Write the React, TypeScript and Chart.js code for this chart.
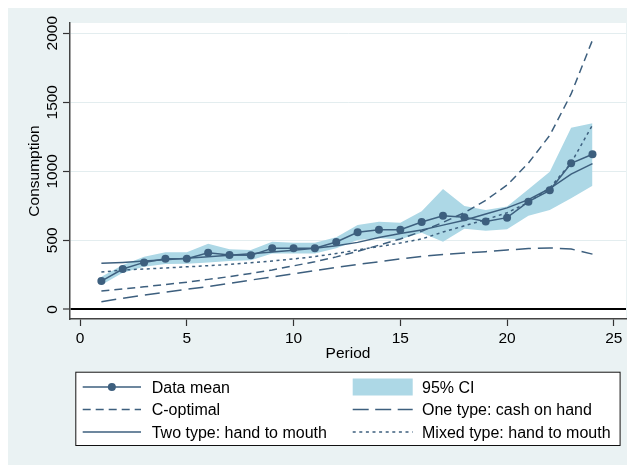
import React, { useEffect, useRef } from "react";
import { Chart, registerables } from "chart.js";

Chart.register(...registerables);

const periods = [1, 2, 3, 4, 5, 6, 7, 8, 9, 10, 11, 12, 13, 14, 15, 16, 17, 18, 19, 20, 21, 22, 23, 24];
const dataMean = [205, 292, 340, 367, 367, 410, 393, 391, 442, 442, 442, 488, 558, 577, 577, 633, 678, 667, 637, 664, 780, 862, 1058, 1123];
const ciUpper = [236, 321, 381, 413, 413, 475, 435, 430, 490, 483, 483, 522, 611, 635, 628, 710, 872, 748, 720, 744, 870, 997, 1316, 1348];
const ciLower = [176, 265, 309, 328, 330, 340, 350, 355, 405, 405, 405, 442, 502, 514, 507, 555, 490, 584, 570, 580, 678, 720, 804, 896];
const cOptimal = [133, 148, 163, 180, 197, 217, 237, 260, 285, 315, 345, 380, 420, 465, 510, 565, 630, 700, 790, 900, 1060, 1260, 1560, 1950];
const oneType = [55, 80, 103, 125, 145, 165, 188, 212, 235, 258, 280, 303, 325, 345, 365, 383, 398, 408, 418, 430, 440, 445, 437, 400];
const twoType = [333, 340, 350, 360, 370, 380, 392, 403, 415, 428, 442, 460, 485, 520, 550, 575, 610, 645, 690, 735, 795, 875, 980, 1055];
const mixedType = [270, 285, 292, 300, 308, 316, 325, 338, 350, 365, 382, 405, 430, 455, 480, 510, 560, 605, 650, 700, 775, 880, 1060, 1335];

const xTicks = [0, 5, 10, 15, 20, 25];
const yTicks = [0, 500, 1000, 1500, 2000];

const BG = "#EAF2F3";
const NAVY = "#3D5F7E";
const CI = "#ADD8E6";
const FONT = "Liberation Sans, Arial, sans-serif";

export default function App() {
  const ref = useRef<HTMLCanvasElement>(null);

  useEffect(() => {
    const canvas = ref.current!;
    const pts = (arr: number[]) => periods.map((p, i) => ({ x: p, y: arr[i] }));

    const bgPlugin = {
      id: "bgPlugin",
      beforeDraw(chart: any) {
        const { ctx, chartArea: a } = chart;
        ctx.save();
        ctx.fillStyle = BG;
        ctx.fillRect(0, 0, chart.width, chart.height);
        ctx.fillStyle = "#ffffff";
        ctx.fillRect(a.left, a.top, a.right - a.left, a.bottom - a.top);
        ctx.restore();
      },
    };

    const textPlugin = {
      id: "textPlugin",
      afterDraw(chart: any) {
        const { ctx, chartArea: a } = chart;
        const xs = chart.scales.x;
        const ys = chart.scales.y;
        ctx.save();
        ctx.fillStyle = "#000";
        ctx.font = `15.5px ${FONT}`;
        // y tick labels (rotated)
        ctx.textAlign = "center";
        ctx.textBaseline = "alphabetic";
        yTicks.forEach((v) => {
          const py = ys.getPixelForValue(v);
          ctx.save();
          ctx.translate(48.5, py);
          ctx.rotate(-Math.PI / 2);
          ctx.fillText(String(v), 0, 0);
          ctx.restore();
        });
        // x tick labels
        xTicks.forEach((v) => {
          const px = xs.getPixelForValue(v);
          ctx.fillText(String(v), px, 334.7);
        });
        // titles
        ctx.fillText("Period", (a.left + a.right) / 2, 349.5);
        ctx.save();
        ctx.translate(30.5, (a.top + a.bottom) / 2);
        ctx.rotate(-Math.PI / 2);
        ctx.fillText("Consumption", 0, 0);
        ctx.restore();

        // legend
        const L = 67.3, T = 363.7, R = 612.6, B = 438;
        ctx.fillStyle = "#fff";
        ctx.fillRect(L, T, R - L, B - T);
        ctx.strokeStyle = "#111";
        ctx.lineWidth = 1;
        ctx.strokeRect(L + 0.5, T + 0.5, R - L - 1, B - T - 1);

        const rows = [379, 401.5, 424];
        const c1 = [74.7, 133], c2 = [344.7, 404.7];
        const t1 = 143.7, t2 = 414;
        const ds = chart.data.datasets;
        const drawLine = (x0: number, x1: number, y: number, d: any) => {
          ctx.save();
          ctx.strokeStyle = d.borderColor;
          ctx.lineWidth = d.borderWidth;
          ctx.setLineDash(d.borderDash || []);
          ctx.beginPath();
          ctx.moveTo(x0, y);
          ctx.lineTo(x1, y);
          ctx.stroke();
          ctx.restore();
        };
        const byLabel = (l: string) => ds.find((d: any) => d.label === l);
        // Data mean
        const dm = byLabel("Data mean");
        drawLine(c1[0], c1[1], rows[0], dm);
        ctx.fillStyle = dm.pointBackgroundColor;
        ctx.beginPath();
        ctx.arc((c1[0] + c1[1]) / 2, rows[0], dm.pointRadius, 0, Math.PI * 2);
        ctx.fill();
        drawLine(c1[0], c1[1], rows[1], byLabel("C-optimal"));
        drawLine(c1[0], c1[1], rows[2], byLabel("Two type: hand to mouth"));
        // CI swatch
        ctx.fillStyle = CI;
        ctx.fillRect(c2[0], rows[0] - 8.5, c2[1] - c2[0], 17);
        const ot = byLabel("One type: cash on hand");
        drawLine(c2[0], c2[1], rows[1], { ...ot, borderDash: [16, 6.5] });
        const mt = byLabel("Mixed type: hand to mouth");
        drawLine(c2[0], c2[1], rows[2], { ...mt, borderDash: [3, 3.6] });

        ctx.fillStyle = "#000";
        ctx.font = `16px ${FONT}`;
        ctx.textAlign = "left";
        const off = 5.6;
        ctx.fillText("Data mean", t1, rows[0] + off);
        ctx.fillText("C-optimal", t1, rows[1] + off);
        ctx.fillText("Two type: hand to mouth", t1, rows[2] + off);
        ctx.fillText("95% CI", t2, rows[0] + off);
        ctx.fillText("One type: cash on hand", t2, rows[1] + off);
        ctx.fillText("Mixed type: hand to mouth", t2, rows[2] + off);
        ctx.restore();
      },
    };

    const lineDs = (label: string, arr: number[], dash: number[]) => ({
      label,
      data: pts(arr),
      borderColor: NAVY,
      backgroundColor: NAVY,
      borderWidth: 1.5,
      borderDash: dash,
      pointRadius: 0,
      tension: 0,
      fill: false,
    });

    const chart = new Chart(canvas, {
      type: "line",
      data: {
        datasets: [
          {
            label: "Data mean",
            data: pts(dataMean),
            borderColor: NAVY,
            backgroundColor: NAVY,
            pointBackgroundColor: NAVY,
            pointBorderColor: NAVY,
            pointRadius: 4,
            pointBorderWidth: 0,
            borderWidth: 1.5,
            tension: 0,
            fill: false,
          } as any,
          lineDs("Two type: hand to mouth", twoType, []),
          lineDs("Mixed type: hand to mouth", mixedType, [3, 3.5]),
          lineDs("C-optimal", cOptimal, [8, 5]),
          lineDs("One type: cash on hand", oneType, [15, 7]),
          {
            label: "CI lower",
            data: pts(ciLower),
            borderWidth: 0,
            borderColor: "rgba(0,0,0,0)",
            pointRadius: 0,
            tension: 0,
            fill: false,
          },
          {
            label: "95% CI",
            data: pts(ciUpper),
            borderWidth: 0,
            borderColor: "rgba(0,0,0,0)",
            backgroundColor: CI,
            pointRadius: 0,
            tension: 0,
            fill: "-1",
          },
        ],
      },
      options: {
        animation: false,
        responsive: false,
        events: [],
        layout: { padding: { left: 0, top: 15, right: 9, bottom: 106 } },
        plugins: {
          legend: { display: false },
          tooltip: { enabled: false },
          filler: { drawTime: "beforeDatasetsDraw" },
        } as any,
        scales: {
          x: {
            type: "linear",
            min: -0.47,
            max: 25.57,
            afterBuildTicks: (s: any) => {
              s.ticks = xTicks.map((v) => ({ value: v }));
            },
            afterFit: (s: any) => {
              s.height = 40;
            },
            ticks: { display: false },
            grid: {
              drawOnChartArea: false,
              drawTicks: true,
              tickLength: 7,
              tickColor: "#333",
              tickWidth: 1.2,
            },
            border: { display: true, color: "#444", width: 1.5 },
          },
          y: {
            type: "linear",
            min: -70,
            max: 2074,
            afterBuildTicks: (s: any) => {
              s.ticks = yTicks.map((v) => ({ value: v }));
            },
            afterFit: (s: any) => {
              s.width = 62;
            },
            ticks: { display: false },
            grid: {
              drawOnChartArea: true,
              drawTicks: true,
              tickLength: 7,
              tickColor: "#333",
              tickWidth: 1.2,
              color: (c: any) => (c.tick && c.tick.value === 0 ? "#000" : "#E3EDEF"),
              lineWidth: (c: any) => (c.tick && c.tick.value === 0 ? 2 : 1),
            },
            border: { display: true, color: "#444", width: 1.5 },
          },
        },
      },
      plugins: [bgPlugin, textPlugin],
    });

    return () => chart.destroy();
  }, []);

  return (
    <canvas
      ref={ref}
      width={627}
      height={457}
      style={{ display: "block", width: 627, height: 457 }}
    />
  );
}
